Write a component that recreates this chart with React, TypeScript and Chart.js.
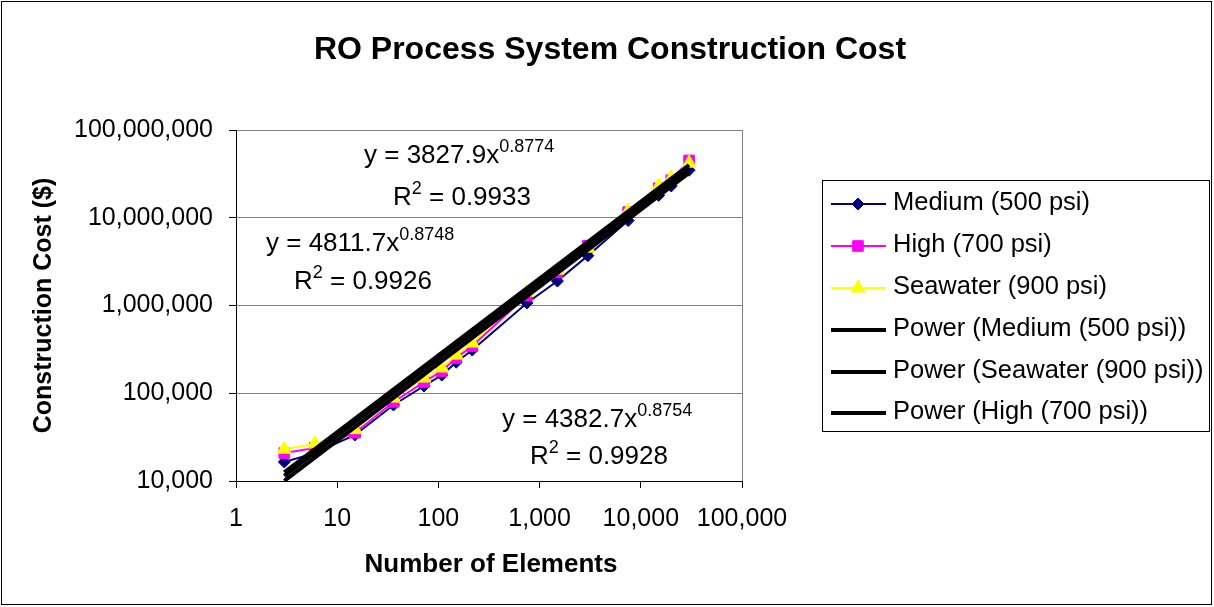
import { useEffect, useRef } from "react";
import { Chart, registerables } from "chart.js";

Chart.register(...registerables);

// ---------- data ----------
const elements = [3, 6, 15, 36, 72, 108, 150, 216, 750, 1500, 3000, 7500, 15000, 20000, 30000];
const medium = [16500, 20800, 33500, 73500, 121000, 161000, 226000, 311000, 1070000, 1900000, 3700000, 9300000, 18000000, 23000000, 34800000];
const high = [20800, 23800, 35500, 79500, 134000, 179000, 252000, 345000, 1300000, 2380000, 4800000, 11600000, 21700000, 26800000, 45000000];
const seawater = [23000, 26500, 38500, 88000, 149000, 194000, 272000, 373000, 1420000, 2530000, 4500000, 11900000, 22900000, 28300000, 41900000];

const trendX = [3, 30000];
const trendMedium = [10037, 32470000];
const trendHigh = [11466, 36430000];
const trendSeawater = [12580, 39750000];

const xTicks = [1, 10, 100, 1000, 10000, 100000];
const yTicks = [10000, 100000, 1000000, 10000000, 100000000];

const seriesNames = ["Medium (500 psi)", "High (700 psi)", "Seawater (900 psi)"];
const trendNames = ["Power (Medium (500 psi))", "Power (Seawater (900 psi))", "Power (High (700 psi))"];

const eqCoef = ["3827.9", "4811.7", "4382.7"];
const eqExp = ["0.8774", "0.8748", "0.8754"];
const eqR2 = ["0.9933", "0.9926", "0.9928"];

const TITLE = "RO Process System Construction Cost";
const X_TITLE = "Number of Elements";
const Y_TITLE = "Construction Cost ($)";

// ---------- styling ----------
const FONT = "'Liberation Sans', Arial, sans-serif";
const NAVY = "#000080";
const MAGENTA = "#FF00FF";
const YELLOW = "#FFFF00";
const GRID = "#808080";

// annotation layout (pixel anchors: left x, baseline of equation, baseline of R²)
const eqLayout = [
  { ex: 364, ey: 163, rx: 393, ry: 205 },
  { ex: 266, ey: 251, rx: 294, ry: 289 },
  { ex: 502, ey: 427, rx: 530, ry: 464 },
];

function drawMarker(ctx: CanvasRenderingContext2D, style: string, x: number, y: number, r: number, color: string) {
  ctx.save();
  ctx.fillStyle = color;
  ctx.strokeStyle = color;
  ctx.lineWidth = 1;
  ctx.beginPath();
  if (style === "rectRot") {
    ctx.moveTo(x, y - r);
    ctx.lineTo(x + r, y);
    ctx.lineTo(x, y + r);
    ctx.lineTo(x - r, y);
    ctx.closePath();
  } else if (style === "rect") {
    const s = r * Math.SQRT1_2;
    ctx.rect(x - s, y - s, 2 * s, 2 * s);
  } else if (style === "triangle") {
    const h = r * Math.sqrt(3) / 2;
    ctx.moveTo(x, y - r);
    ctx.lineTo(x + h, y + r / 2);
    ctx.lineTo(x - h, y + r / 2);
    ctx.closePath();
  }
  ctx.fill();
  ctx.stroke();
  ctx.restore();
}

const decorPlugin = {
  id: "decor",
  beforeDraw(chart: any) {
    const ctx = chart.ctx as CanvasRenderingContext2D;
    ctx.save();
    ctx.fillStyle = "#ffffff";
    ctx.fillRect(0, 0, chart.width, chart.height);
    ctx.restore();
  },
  afterDraw(chart: any) {
    const ctx = chart.ctx as CanvasRenderingContext2D;
    const area = chart.chartArea;
    ctx.save();

    // outer border
    ctx.strokeStyle = "#000";
    ctx.lineWidth = 1;
    ctx.strokeRect(1.5, 1.5, chart.width - 4, chart.height - 4);

    // title
    ctx.fillStyle = "#000";
    ctx.font = `bold 32px ${FONT}`;
    ctx.textAlign = "center";
    ctx.textBaseline = "alphabetic";
    ctx.fillText(TITLE, 610, 59);

    // x axis title
    ctx.font = `bold 26px ${FONT}`;
    ctx.textBaseline = "middle";
    ctx.fillText(X_TITLE, (area.left + area.right) / 2 + 2, 565);

    // y axis title
    ctx.save();
    ctx.translate(44, (area.top + area.bottom) / 2);
    ctx.rotate(-Math.PI / 2);
    ctx.font = `bold 25px ${FONT}`;
    ctx.fillText(Y_TITLE, 0, 0);
    ctx.restore();

    // equations
    ctx.textAlign = "left";
    ctx.textBaseline = "alphabetic";
    eqLayout.forEach((p, i) => {
      ctx.font = `26px ${FONT}`;
      const main = `y = ${eqCoef[i]}x`;
      ctx.fillText(main, p.ex, p.ey);
      const w = ctx.measureText(main).width;
      ctx.font = `18px ${FONT}`;
      ctx.fillText(eqExp[i], p.ex + w, p.ey - 11);

      ctx.font = `26px ${FONT}`;
      ctx.fillText("R", p.rx, p.ry);
      const wr = ctx.measureText("R").width;
      ctx.font = `18px ${FONT}`;
      ctx.fillText("2", p.rx + wr, p.ry - 11);
      const w2 = ctx.measureText("2").width;
      ctx.font = `26px ${FONT}`;
      ctx.fillText(` = ${eqR2[i]}`, p.rx + wr + w2, p.ry);
    });

    // legend
    const lx = 822.5, ly = 180.5, lw = 387, lh = 251;
    ctx.strokeStyle = "#000";
    ctx.lineWidth = 1;
    ctx.strokeRect(lx, ly, lw, lh);
    const rowY = [204, 246, 288, 330, 372, 413];
    const items = [
      { label: seriesNames[0], color: NAVY, width: 2, marker: "rectRot", r: 6 },
      { label: seriesNames[1], color: MAGENTA, width: 2, marker: "rect", r: 7.5 },
      { label: seriesNames[2], color: YELLOW, width: 2, marker: "triangle", r: 8 },
      { label: trendNames[0], color: "#000", width: 4, marker: "", r: 0 },
      { label: trendNames[1], color: "#000", width: 4, marker: "", r: 0 },
      { label: trendNames[2], color: "#000", width: 4, marker: "", r: 0 },
    ];
    items.forEach((it, i) => {
      const y = rowY[i];
      ctx.strokeStyle = it.color;
      ctx.lineWidth = it.width;
      ctx.beginPath();
      ctx.moveTo(831, y);
      ctx.lineTo(886, y);
      ctx.stroke();
      if (it.marker) drawMarker(ctx, it.marker, 858, y, it.r, it.color);
      ctx.fillStyle = "#000";
      ctx.font = `25.5px ${FONT}`;
      ctx.textAlign = "left";
      ctx.textBaseline = "alphabetic";
      ctx.fillText(it.label, 893, y + 6);
    });

    ctx.restore();
  },
};

export default function App() {
  const ref = useRef<HTMLCanvasElement | null>(null);

  useEffect(() => {
    if (!ref.current) return;
    const pts = (xs: number[], ys: number[]) => xs.map((x, i) => ({ x, y: ys[i] }));
    const chart = new Chart(ref.current, {
      type: "line",
      data: {
        datasets: [
          {
            label: trendNames[0],
            data: pts(trendX, trendMedium),
            borderColor: "#000",
            borderWidth: 4,
            pointRadius: 0,
            order: 0,
          },
          {
            label: trendNames[1],
            data: pts(trendX, trendSeawater),
            borderColor: "#000",
            borderWidth: 4,
            pointRadius: 0,
            order: 0,
          },
          {
            label: trendNames[2],
            data: pts(trendX, trendHigh),
            borderColor: "#000",
            borderWidth: 4,
            pointRadius: 0,
            order: 0,
          },
          {
            label: seriesNames[2],
            data: pts(elements, seawater),
            borderColor: YELLOW,
            backgroundColor: YELLOW,
            borderWidth: 2,
            pointStyle: "triangle",
            pointRadius: 8,
            pointBorderWidth: 1,
            order: 1,
          },
          {
            label: seriesNames[1],
            data: pts(elements, high),
            borderColor: MAGENTA,
            backgroundColor: MAGENTA,
            borderWidth: 2,
            pointStyle: "rect",
            pointRadius: 7.5,
            pointBorderWidth: 1,
            order: 2,
          },
          {
            label: seriesNames[0],
            data: pts(elements, medium),
            borderColor: NAVY,
            backgroundColor: NAVY,
            borderWidth: 2,
            pointStyle: "rectRot",
            pointRadius: 6,
            pointBorderWidth: 1,
            order: 3,
          },
        ],
      },
      options: {
        animation: false,
        responsive: false,
        maintainAspectRatio: false,
        parsing: true as any,
        layout: { padding: { top: 130, right: 472, bottom: 0, left: 0 } },
        plugins: {
          legend: { display: false },
          tooltip: { enabled: false },
          title: { display: false },
        },
        elements: { line: { tension: 0 } },
        scales: {
          x: {
            type: "logarithmic",
            min: 1,
            max: 100000,
            afterFit: (s: any) => {
              s.height = 126;
            },
            afterBuildTicks: (s: any) => {
              s.ticks = xTicks.map((v) => ({ value: v }));
            },
            ticks: {
              autoSkip: false,
              maxRotation: 0,
              minRotation: 0,
              padding: 16,
              color: "#000",
              font: { family: FONT, size: 25 },
              callback: (v: any) => Number(v).toLocaleString("en-US"),
            },
            grid: {
              drawOnChartArea: true,
              color: (c: any) => (c.tick && c.tick.value === 100000 ? GRID : "rgba(0,0,0,0)"),
              tickColor: "#000",
              tickLength: 7,
              lineWidth: 1,
            },
            border: { display: true, color: "#000", width: 1 },
          },
          y: {
            type: "logarithmic",
            min: 10000,
            max: 100000000,
            afterFit: (s: any) => {
              s.width = 236;
            },
            afterBuildTicks: (s: any) => {
              s.ticks = yTicks.map((v) => ({ value: v }));
            },
            ticks: {
              autoSkip: false,
              padding: 16,
              color: "#000",
              font: { family: FONT, size: 25 },
              callback: (v: any) => Number(v).toLocaleString("en-US"),
            },
            grid: {
              drawOnChartArea: true,
              color: GRID,
              tickColor: "#000",
              tickLength: 7,
              lineWidth: 1,
            },
            border: { display: true, color: "#000", width: 1 },
          },
        },
      },
      plugins: [decorPlugin],
    } as any);
    return () => chart.destroy();
  }, []);

  return (
    <div style={{ position: "absolute", left: 0, top: 0, width: 1214, height: 607, background: "#fff" }}>
      <canvas ref={ref} width={1214} height={607} style={{ display: "block" }} />
    </div>
  );
}
